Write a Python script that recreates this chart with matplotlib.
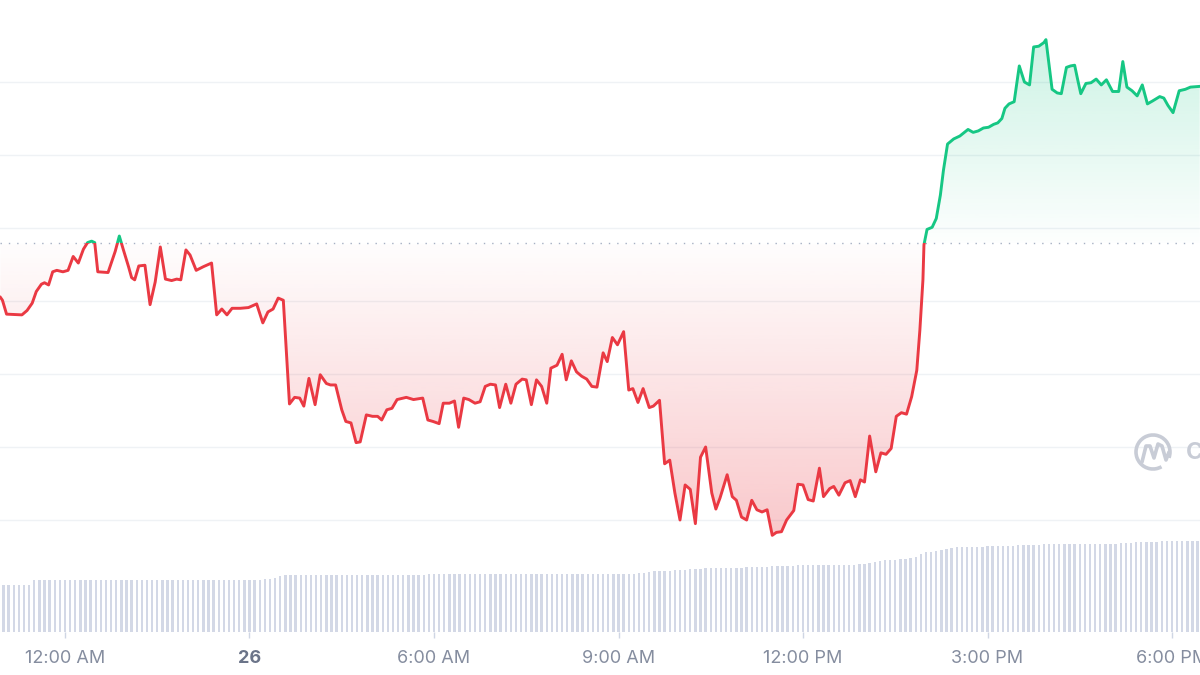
import numpy as np
import matplotlib.pyplot as plt
from matplotlib.path import Path
from matplotlib.patches import PathPatch, Arc
from matplotlib.colors import to_rgb

# price line: minutes after 12:00 AM and price
minutes = [
    -63, -61, -57, -42, -37, -32, -28, -23, -20, -16, -12, -8, -2, 3, 8, 13, 18, 22, 26, 29,
    32, 42, 49, 53, 57, 62, 65, 68, 72, 78, 83, 88, 93, 98, 104, 109, 113, 118, 122, 128,
    135, 143, 148, 153, 158, 163, 171, 179, 187, 193, 198, 203, 208, 213, 219, 224, 229, 233, 238, 244,
    249, 255, 259, 264, 270, 274, 279, 284, 288, 294, 300, 305, 309, 314, 319, 324, 333, 340, 349, 354,
    359, 365, 369, 375, 380, 384, 389, 394, 400, 405, 410, 415, 420, 424, 430, 435, 440, 446, 450, 455,
    460, 465, 470, 474, 480, 485, 489, 494, 499, 504, 509, 514, 519, 525, 529, 534, 539, 545, 550, 554,
    559, 564, 570, 574, 580, 585, 590, 595, 600, 605, 610, 615, 620, 625, 631, 635, 639, 646, 651, 655,
    660, 665, 670, 675, 680, 685, 690, 694, 699, 704, 711, 715, 720, 725, 730, 736, 740, 746, 750, 755,
    761, 766, 771, 776, 780, 785, 791, 796, 801, 806, 811, 816, 821, 826, 831, 834, 837, 838, 841, 846,
    850, 854, 857, 861, 867, 873, 881, 886, 891, 896, 901, 906, 910, 914, 917, 921, 926, 931, 936, 941,
    945, 950, 955, 957, 963, 968, 972, 977, 981, 985, 988, 991, 996, 1001, 1006, 1011, 1016, 1022, 1028, 1032,
    1036, 1041, 1046, 1051, 1056, 1061, 1068, 1072, 1076, 1081, 1087, 1093, 1098, 1107,
]
prices = [
    130.5, 130.1, 128.2, 128.1, 128.7, 129.7, 131.3, 132.3, 132.5, 132.2, 134.0, 134.2, 134.0, 134.2, 136.1, 135.2, 137.1, 138.0, 138.2, 138.0,
    134.0, 133.9, 136.8, 138.9, 137.0, 134.7, 133.2, 132.9, 134.8, 134.9, 129.5, 132.6, 137.4, 133.0, 132.8, 133.0, 132.9, 137.0, 136.3, 134.2,
    134.7, 135.2, 128.1, 128.9, 128.1, 129.0, 129.0, 129.1, 129.6, 127.0, 128.5, 128.9, 130.4, 130.1, 115.9, 116.8, 116.7, 115.6, 119.4, 115.8,
    119.9, 118.7, 118.5, 118.5, 115.1, 113.5, 113.3, 110.6, 110.7, 114.4, 114.2, 114.2, 113.7, 115.1, 115.3, 116.5, 116.8, 116.5, 116.7, 113.7,
    113.5, 113.2, 116.0, 116.0, 116.3, 112.7, 116.7, 116.5, 116.0, 116.2, 118.3, 118.6, 118.5, 115.4, 118.6, 116.0, 118.6, 119.3, 119.2, 115.8,
    119.2, 118.3, 116.0, 120.8, 121.2, 122.7, 119.2, 121.8, 120.3, 119.7, 119.3, 118.3, 118.2, 122.9, 121.7, 125.0, 124.0, 125.8, 117.8, 118.0,
    116.1, 118.0, 115.4, 115.6, 116.4, 107.7, 108.2, 103.7, 100.0, 104.8, 104.2, 99.5, 108.6, 110.0, 103.7, 101.5, 103.0, 106.2, 103.2, 102.7,
    100.4, 100.0, 102.7, 101.4, 101.1, 101.4, 97.9, 98.3, 98.4, 100.0, 101.3, 104.9, 104.8, 102.8, 102.6, 107.1, 103.2, 104.3, 104.6, 103.4,
    105.1, 105.4, 103.2, 105.5, 105.2, 111.5, 106.6, 109.2, 109.0, 109.8, 114.2, 114.7, 114.5, 116.9, 120.5, 126.0, 132.9, 137.7, 139.8, 140.1,
    141.3, 144.5, 147.9, 151.5, 152.2, 152.6, 153.5, 153.1, 153.3, 153.7, 153.8, 154.2, 154.4, 155.0, 156.4, 157.0, 157.3, 162.2, 160.0, 159.6,
    164.8, 164.9, 165.4, 165.8, 159.0, 158.5, 158.4, 162.0, 162.2, 162.3, 160.3, 158.4, 159.8, 159.9, 160.4, 159.6, 160.3, 158.7, 158.7, 162.8,
    159.3, 158.8, 158.1, 159.6, 157.0, 157.4, 158.0, 157.8, 156.8, 155.8, 158.8, 159.0, 159.3, 159.4,
]
ref_price = 137.9

# volume bars, one every 5 minutes starting at 11:55 PM of the day before
vol_start = -65
vol_step = 5
volumes = [
    47, 47, 47, 47, 47, 47, 47, 52, 52, 52, 52, 52,
    52, 52, 52, 52, 52, 52, 52, 52, 52, 52, 52, 52,
    52, 52, 52, 52, 52, 52, 52, 52, 52, 52, 52, 52,
    52, 52, 52, 52, 52, 52, 52, 52, 52, 52, 52, 52,
    52, 52, 52, 52, 53, 53, 54, 56, 57, 57, 57, 57,
    57, 57, 57, 57, 57, 57, 57, 57, 57, 57, 57, 57,
    57, 57, 57, 57, 57, 57, 57, 57, 57, 57, 57, 57,
    58, 58, 58, 58, 58, 58, 58, 58, 58, 58, 58, 58,
    58, 58, 58, 58, 58, 58, 58, 58, 58, 58, 58, 58,
    58, 58, 58, 58, 58, 58, 58, 58, 58, 58, 58, 58,
    58, 58, 58, 58, 58, 59, 59, 60, 61, 61, 61, 61,
    62, 62, 62, 63, 63, 63, 64, 64, 64, 64, 64, 64,
    64, 64, 65, 65, 65, 65, 65, 66, 66, 66, 66, 66,
    67, 67, 67, 67, 67, 67, 67, 67, 67, 67, 67, 67,
    68, 68, 69, 70, 71, 72, 72, 72, 73, 73, 74, 75,
    78, 80, 80, 81, 82, 83, 84, 85, 85, 85, 85, 85,
    85, 86, 86, 86, 86, 86, 86, 87, 87, 87, 87, 87,
    88, 88, 88, 88, 88, 88, 88, 88, 88, 88, 88, 88,
    88, 88, 88, 89, 89, 89, 90, 90, 90, 90, 90, 91,
    91, 91, 91, 91, 91, 91, 91,
]

tick_minutes = [0, 180, 360, 540, 720, 900, 1080]
tick_labels = ['12:00 AM', '26', '6:00 AM', '9:00 AM', '12:00 PM', '3:00 PM', '6:00 PM']

RED = '#ea3943'
GREEN = '#16c784'
GRID = '#eff2f5'
VOL = '#d3d8e6'

plt.rcParams['font.family'] = ['Inter', 'DejaVu Sans']

t = np.array(minutes, dtype=float)
p = np.array(prices, dtype=float)
x0, x1 = -63.4, 1107.3

fig = plt.figure(figsize=(12, 6.75), dpi=100)
fig.patch.set_facecolor('white')

# volume axes (pixel 532..632 from top)
ax_vol = fig.add_axes([0, 43 / 675, 1, 100 / 675])
vt = vol_start + vol_step * np.arange(len(volumes))
ax_vol.bar(vt, volumes, width=2.3, color=VOL, linewidth=0, align='center')
ax_vol.set_xlim(x0, x1)
ax_vol.set_ylim(0, 100)
ax_vol.set_yticks([])
for s in ax_vol.spines.values():
    s.set_visible(False)
ax_vol.set_xticks(tick_minutes)
ax_vol.set_xticklabels(tick_labels)
ax_vol.tick_params(axis='x', length=4, width=1, color='#cfd6e4', pad=9,
                   labelsize=13, labelcolor='#858d9f')
for lbl in ax_vol.get_xticklabels():
    if lbl.get_text() == '26':
        lbl.set_fontweight('bold')
        lbl.set_color('#6b7489')
ax_vol.patch.set_alpha(0)

# price axes (pixel 0..620 from top)
ax = fig.add_axes([0, 55 / 675, 1, 620 / 675])
ax.patch.set_alpha(0)
for s in ax.spines.values():
    s.set_visible(False)
ax.set_yticks([100, 110, 120, 130, 140, 150, 160])
ax.set_xticks([])
ax.tick_params(axis='y', length=0, labelleft=False)
ax.grid(axis='y', color=GRID, linewidth=1, zorder=0)
ax.set_axisbelow(True)


def gradient_fill(ax, below, color, a_near, a_far, far):
    mask = p <= ref_price if below else p >= ref_price
    coll = ax.fill_between(t, p, ref_price, where=mask, interpolate=True,
                           facecolor='none', edgecolor='none')
    path = Path.make_compound_path(*coll.get_paths())
    patch = PathPatch(path, transform=ax.transData, facecolor='none', edgecolor='none')
    ax.add_patch(patch)
    rgba = np.zeros((256, 1, 4))
    rgba[..., :3] = to_rgb(color)
    rgba[:, 0, 3] = np.linspace(a_near, a_far, 256)
    im = ax.imshow(rgba, extent=[x0, x1, ref_price, far], origin='lower',
                   aspect='auto', interpolation='bilinear', zorder=1)
    im.set_clip_path(patch)


gradient_fill(ax, True, RED, 0.01, 0.28, 97.5)
gradient_fill(ax, False, GREEN, 0.01, 0.22, 166)

# baseline
ax.axhline(ref_price, color='#a6b0c3', linewidth=1, linestyle=(0, (1, 5)), zorder=2)

# line, red below the baseline and green above it
lo, hi = 80, 180
below_clip = Path([[x0 - 50, lo], [x1 + 50, lo], [x1 + 50, ref_price], [x0 - 50, ref_price], [x0 - 50, lo]], closed=True)
above_clip = Path([[x0 - 50, ref_price], [x1 + 50, ref_price], [x1 + 50, hi], [x0 - 50, hi], [x0 - 50, ref_price]], closed=True)
l_red, = ax.plot(t, p, color=RED, linewidth=2.1, solid_joinstyle='round', zorder=3)
l_red.set_clip_path(below_clip, ax.transData)
l_green, = ax.plot(t, p, color=GREEN, linewidth=2.1, solid_joinstyle='round', zorder=3)
l_green.set_clip_path(above_clip, ax.transData)

ax.set_xlim(x0, x1)
ax.set_ylim(100 - 100 / 7.3, 100 + 520 / 7.3)

# watermark
wm = fig.add_axes([0, 0, 1, 1])
wm.set_xlim(0, 1200)
wm.set_ylim(675, 0)
wm.axis('off')
wm.patch.set_alpha(0)
wm_color = '#c8ccd6'
wm.add_patch(Arc((1153, 452), 34, 34, theta1=-300, theta2=20, color=wm_color, linewidth=2.6))
wm.plot([1142, 1146, 1150, 1154, 1158, 1162, 1166, 1169],
        [462, 446, 446, 458, 444, 446, 460, 452], color=wm_color, linewidth=2.6,
        solid_joinstyle='round', solid_capstyle='round')
wm.text(1186, 452, 'CoinMarketCap', color=wm_color, fontsize=17, fontweight='bold',
        va='center', ha='left')

fig.savefig('out.png', dpi=100)
